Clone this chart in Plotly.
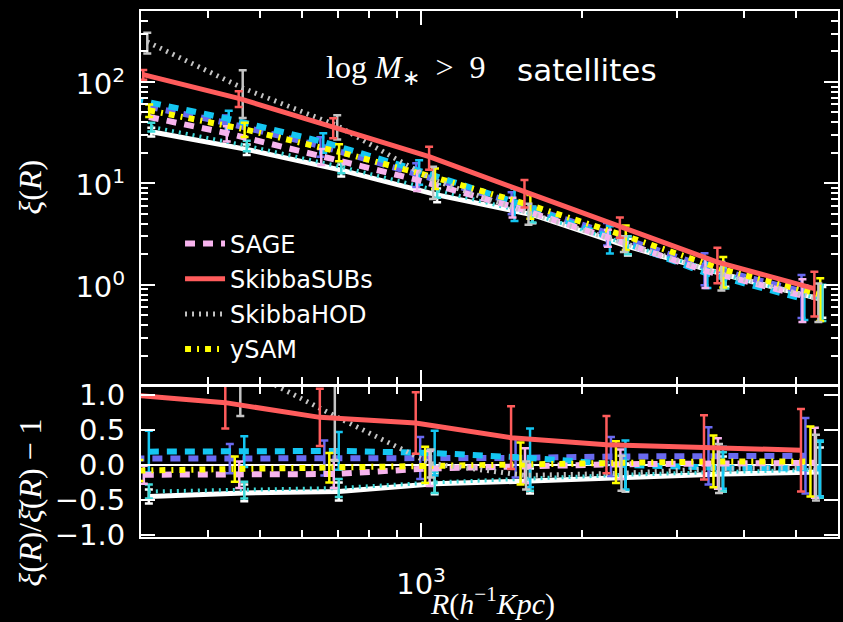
import numpy as np
import plotly.graph_objects as go

# ---------------- data ----------------
R_bins = [286, 431, 647, 977, 1472, 2218, 3373, 5117]   # h^-1 Kpc

# top panel: xi(R)
xi_sage      = [49.0, 31.2, 18.5, 10.8, 5.90, 2.93, 1.37, 0.78]
xi_sage_err  = [5.9, 5.3, 3.3, 2.4, 1.3, 0.56, 0.44, 0.35]
xi_subs      = [118.0, 68.7, 35.8, 18.3, 8.28, 3.75, 1.675, 0.916]
xi_subs_err  = [13.0, 12.0, 8.0, 4.7, 2.5, 0.85, 0.64, 0.43]
xi_hod       = [248.0, 87.0, 37.0, 10.8, 5.1, 2.55, 1.28, 0.73]
xi_hod_err   = [57.0, 43.0, 10.0, 3.8, 1.2, 0.45, 0.40, 0.30]
xi_ysam      = [52.4, 34.1, 20.4, 11.4, 6.08, 3.02, 1.41, 0.80]
xi_ysam_err  = [7.3, 5.5, 3.9, 2.6, 1.6, 0.82, 0.47, 0.36]
xi_blue      = [62.0, 39.6, 23.4, 12.5, 6.56, 3.25, 1.52, 0.86]
xi_blue_err  = [11.0, 7.1, 5.1, 3.3, 1.6, 0.81, 0.53, 0.39]
xi_cyan      = [67.8, 43.2, 25.6, 13.3, 6.56, 2.90, 1.29, 0.72]
xi_cyan_err  = [17.0, 8.6, 5.6, 3.6, 2.3, 0.87, 0.36, 0.27]
xi_white     = [32.2, 21.6, 13.5, 7.7, 4.9, 2.39, 1.256, 0.713]
xi_white_err = [3.2, 2.6, 1.8, 1.2, 0.85, 0.45, 0.30, 0.24]
xi_turq      = [36.0, 23.5, 14.5, 8.5, 5.0, 2.50, 1.25, 0.72]
xi_turq_err  = [3.6, 2.8, 1.9, 1.3, 0.9, 0.50, 0.33, 0.28]

# bottom panel: xi / mean(xi) - 1
rat_sage      = [-0.14, -0.14, -0.13, -0.05, -0.01, 0.01, 0.02, 0.03]
rat_sage_err  = [0.13, 0.19, 0.20, 0.25, 0.25, 0.21, 0.36, 0.50]
rat_subs      = [1.00, 0.89, 0.68, 0.60, 0.39, 0.29, 0.25, 0.21]
rat_subs_err  = [0.35, 0.37, 0.41, 0.44, 0.45, 0.41, 0.46, 0.59]
rat_hod       = [3.30, 1.40, 0.70, 0.02, -0.15, -0.12, -0.05, -0.04]
rat_hod_err   = [0.80, 0.70, 0.64, 0.20, 0.20, 0.25, 0.35, 0.47]
rat_ysam      = [-0.08, -0.06, -0.04, 0.00, 0.02, 0.04, 0.05, 0.05]
rat_ysam_err  = [0.15, 0.18, 0.21, 0.26, 0.30, 0.30, 0.37, 0.50]
rat_blue      = [0.09, 0.09, 0.10, 0.10, 0.10, 0.12, 0.13, 0.13]
rat_blue_err  = [0.20, 0.21, 0.25, 0.30, 0.28, 0.28, 0.41, 0.54]
rat_cyan      = [0.19, 0.19, 0.20, 0.17, 0.10, 0.00, -0.04, -0.05]
rat_cyan_err  = [0.30, 0.22, 0.27, 0.32, 0.42, 0.35, 0.30, 0.40]
rat_white     = [-0.45, -0.40, -0.38, -0.27, -0.23, -0.18, -0.13, -0.10]
rat_white_err = [0.10, 0.12, 0.13, 0.15, 0.18, 0.20, 0.25, 0.35]
rat_turq      = [-0.38, -0.36, -0.33, -0.25, -0.19, -0.14, -0.10, -0.07]
rat_turq_err  = [0.10, 0.12, 0.13, 0.15, 0.18, 0.22, 0.28, 0.40]

# ---------------- styling ----------------
series = [
    dict(name="", color="#ffffff", w=5, dash="solid", leg=False, rank=9,
         top=xi_white, terr=xi_white_err, rat=rat_white, rerr=rat_white_err, st=0.040, sb=0.0354),
    dict(name="", color="#3fdada", w=4, dash="2px,5px", leg=False, rank=9,
         top=xi_turq, terr=xi_turq_err, rat=rat_turq, rerr=rat_turq_err, st=0.040, sb=0.0354),
    dict(name="", color="#6a6af0", w=6, dash="10px,8px", leg=False, rank=9,
         top=xi_blue, terr=xi_blue_err, rat=rat_blue, rerr=rat_blue_err, st=0.001, sb=0.0084),
    dict(name="", color="#14c6f2", w=6, dash="10px,8px", leg=False, rank=9,
         top=xi_cyan, terr=xi_cyan_err, rat=rat_cyan, rerr=rat_cyan_err, st=0.0064, sb=0.0354),
    dict(name="SAGE", color="#f7b4ee", w=6, dash="10px,8px", leg=True, rank=1,
         top=xi_sage, terr=xi_sage_err, rat=rat_sage, rerr=rat_sage_err, st=0.0027, sb=0.026),
    dict(name="ySAM", color="#ffff00", w=6, dash="6px,6px,2px,6px", leg=True, rank=4,
         top=xi_ysam, terr=xi_ysam_err, rat=rat_ysam, rerr=rat_ysam_err, st=0.036, sb=0.0177),
    dict(name="SkibbaHOD", color="#c4c4c4", w=5, dash="2px,5px", leg=True, rank=3,
         top=xi_hod, terr=xi_hod_err, rat=rat_hod, rerr=rat_hod_err, st=0.0325, sb=0.028),
    dict(name="SkibbaSUBs", color="#ff5c5c", w=5, dash="solid", leg=True, rank=2,
         top=xi_subs, terr=xi_subs_err, rat=rat_subs, rerr=rat_subs_err, st=0.025, sb=0.0),
]

R = np.array(R_bins, dtype=float)
fig = go.Figure()

for i, s in enumerate(series):
    xt = R * 10 ** s["st"]
    xb = R * 10 ** s["sb"]
    fig.add_trace(go.Scatter(
        x=xt, y=s["top"], mode="lines", name=s["name"], showlegend=s["leg"],
        legendrank=s["rank"], legendgroup="g%d" % i,
        line=dict(color=s["color"], width=s["w"], dash=s["dash"]),
        error_y=dict(type="data", array=s["terr"], visible=True, color=s["color"],
                     thickness=2.5, width=4),
        xaxis="x", yaxis="y", hoverinfo="skip"))
    fig.add_trace(go.Scatter(
        x=xb, y=s["rat"], mode="lines", showlegend=False, legendgroup="g%d" % i,
        line=dict(color=s["color"], width=s["w"], dash=s["dash"]),
        error_y=dict(type="data", array=s["rerr"], visible=True, color=s["color"],
                     thickness=2.5, width=4),
        xaxis="x2", yaxis="y2", hoverinfo="skip"))

# zero reference line in the ratio panel
fig.add_shape(type="line", xref="x2 domain", yref="y2", x0=0, x1=1, y0=0, y1=0,
              line=dict(color="white", width=2), layer="below")

TICKFONT = dict(family="DejaVu Sans", size=29, color="white")
x_minor = [400, 500, 600, 700, 800, 900, 2000, 3000, 4000, 5000]
y_minor = [0.2, 0.3, 0.4, 0.5, 0.6, 0.7, 0.8, 0.9, 2, 3, 4, 5, 6, 7, 8, 9,
           20, 30, 40, 50, 60, 70, 80, 90, 200, 300, 400]

common_axis = dict(showline=True, linecolor="white", linewidth=2, mirror="allticks",
                   ticks="inside", ticklen=14, tickwidth=2, tickcolor="white",
                   showgrid=False, zeroline=False, tickfont=TICKFONT)

xrange = [np.log10(300), np.log10(6000)]
fig.update_layout(
    width=843, height=622, autosize=False,
    paper_bgcolor="black", plot_bgcolor="black",
    margin=dict(l=141, r=3, t=11, b=85),
    xaxis=dict(type="log", range=xrange, domain=[0, 1], anchor="y",
               tickmode="array", tickvals=[1000], showticklabels=False,
               minor=dict(tickmode="array", tickvals=x_minor, ticks="inside",
                          ticklen=7, tickwidth=2, tickcolor="white", showgrid=False),
               **common_axis),
    xaxis2=dict(type="log", range=xrange, domain=[0, 1], anchor="y2", matches="x",
                tickmode="array", tickvals=[1000], ticktext=["10<sup>3</sup>"],
                ticklabelstandoff=20,
                minor=dict(tickmode="array", tickvals=x_minor, ticks="inside",
                           ticklen=7, tickwidth=2, tickcolor="white", showgrid=False),
                **common_axis),
    yaxis=dict(type="log", range=[np.log10(0.104), np.log10(500)], domain=[0.290, 1],
               anchor="x", tickmode="array", tickvals=[1, 10, 100],
               ticktext=["10<sup>0</sup>", "10<sup>1</sup>", "10<sup>2</sup>"],
               ticklabelstandoff=8, ticklabelshift=2,
               minor=dict(tickmode="array", tickvals=y_minor, ticks="inside",
                          ticklen=7, tickwidth=2, tickcolor="white", showgrid=False),
               **common_axis),
    yaxis2=dict(range=[-1.03, 1.12], domain=[0, 0.286], anchor="x2",
                tickmode="array", tickvals=[-1, -0.5, 0, 0.5, 1],
                ticktext=["\u22121.0", "\u22120.5", "0.0", "0.5", "1.0"],
                ticklabelstandoff=8, **common_axis),
    legend=dict(x=0.056, y=0.600, xanchor="left", yanchor="top",
                bgcolor="rgba(0,0,0,0)", font=dict(family="DejaVu Sans", size=24, color="white"),
                tracegroupgap=1, itemwidth=40),
    showlegend=True,
    hovermode=False,
)

SERIF = "Liberation Serif"
ann = dict(xref="paper", yref="paper", showarrow=False, xanchor="center", yanchor="middle")
fig.add_annotation(x=0.3805, y=0.888, text="log <i>M</i><sub>\u2217</sub>  >  9",
                   font=dict(family=SERIF, size=32, color="white"), **ann)
fig.add_annotation(x=0.6395, y=0.888, text="satellites",
                   font=dict(family="DejaVu Sans", size=31, color="white"), **ann)
fig.add_annotation(x=-0.159, y=0.665, textangle=-90, text="<i>\u03be</i>(<i>R</i>)",
                   font=dict(family=SERIF, size=32, color="white"), **ann)
fig.add_annotation(x=-0.159, y=0.066, textangle=-90,
                   text="<i>\u03be</i>(<i>R</i>)/<i>\u03be\u0304</i>(<i>R</i>) \u2212 1",
                   font=dict(family=SERIF, size=32, color="white"), **ann)
fig.add_annotation(x=0.505, y=-0.122, text="<i>R</i>(<i>h</i><sup>\u22121</sup><i>Kpc</i>)",
                   font=dict(family=SERIF, size=30, color="white"), **ann)

post = ("document.body.style.margin='0';document.body.style.padding='0';"
        "document.body.style.background='black';document.body.style.overflow='hidden';"
        "var gd=document.getElementById('{plot_id}');"
        "Plotly.relayout(gd,{width:843,height:622});")
fig.write_html("out.html", config={"responsive": False, "displayModeBar": False},
               post_script=post, default_width="843px", default_height="622px")
